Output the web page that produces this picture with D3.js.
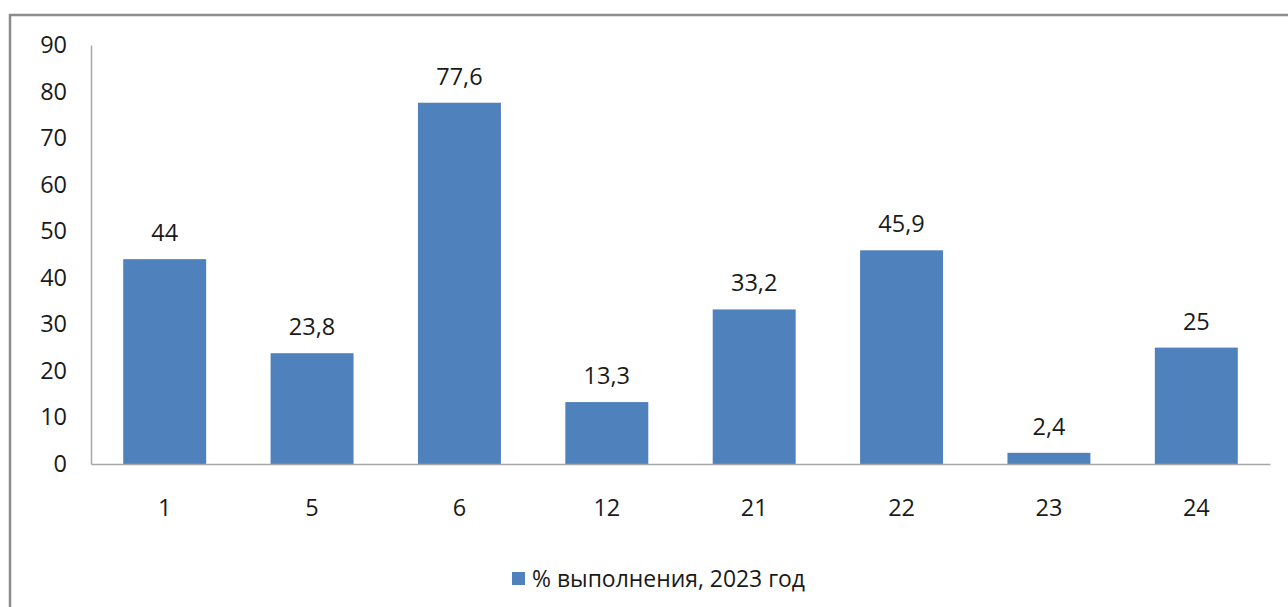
<!DOCTYPE html>
<html><head><meta charset="utf-8">
<script src="https://cdn.jsdelivr.net/npm/d3@7"></script>
<style>body{margin:0;background:#fff}svg{display:block}text{font-family:"Open Sans",sans-serif;fill:#1a1a1a}</style>
</head><body><svg id="c" width="1288" height="607"></svg>
<script>
const categories = ["1","5","6","12","21","22","23","24"];
const values = [44, 23.8, 77.6, 13.3, 33.2, 45.9, 2.4, 25];
const valueLabels = ["44","23,8","77,6","13,3","33,2","45,9","2,4","25"];
const yTicks = [0,10,20,30,40,50,60,70,80,90];
const seriesName = "% выполнения, 2023 год";

(function(){
const svg = d3.select("#c");
const color = "#4f81bd";
const fs = 23.5, ff = "Open Sans";
svg.append("rect").attr("x",10).attr("y",15).attr("width",1290).attr("height",610)
  .attr("fill","none").attr("stroke","#8c8c8c").attr("stroke-width",2.5);

const pL=91, pR=1270, pT=45, pB=464;
const x = d3.scaleBand().domain(categories).range([pL,pR]).paddingInner(0.437).paddingOuter(0.2185);
const y = d3.scaleLinear().domain([0,90]).range([pB,pT]);

const yAxis = svg.append("g").attr("transform",`translate(${pL},0)`)
  .call(d3.axisLeft(y).tickValues(yTicks).tickSize(0).tickPadding(24).tickFormat(d3.format("d")));
yAxis.select(".domain").attr("stroke","#a6a6a6").attr("stroke-width",1.5);
yAxis.selectAll("text").attr("font-size",fs).style("font-family",ff).attr("fill","#1a1a1a");

svg.selectAll("rect.bar").data(values).join("rect").attr("class","bar")
  .attr("x",(d,i)=>x(categories[i])).attr("width",x.bandwidth())
  .attr("y",d=>y(d)).attr("height",d=>y(0)-y(d)).attr("fill",color);

const xAxis = svg.append("g").attr("transform",`translate(0,${pB})`)
  .call(d3.axisBottom(x).tickSize(0).tickPadding(35));
xAxis.select(".domain").attr("stroke","#a6a6a6").attr("stroke-width",1.5);
xAxis.selectAll("text").attr("font-size",fs).style("font-family",ff).attr("fill","#1a1a1a");

svg.selectAll("text.vl").data(values).join("text").attr("class","vl")
  .attr("x",(d,i)=>x(categories[i])+x.bandwidth()/2).attr("y",d=>y(d)-18)
  .attr("text-anchor","middle").attr("font-size",fs).text((d,i)=>valueLabels[i]);

const lg = svg.append("g");
lg.append("rect").attr("x",512).attr("y",572).attr("width",13).attr("height",13).attr("fill",color);
lg.append("text").attr("x",532).attr("y",587).attr("font-size",fs).attr("textLength",273).attr("lengthAdjust","spacingAndGlyphs").text(seriesName);
})();
</script></body></html>
